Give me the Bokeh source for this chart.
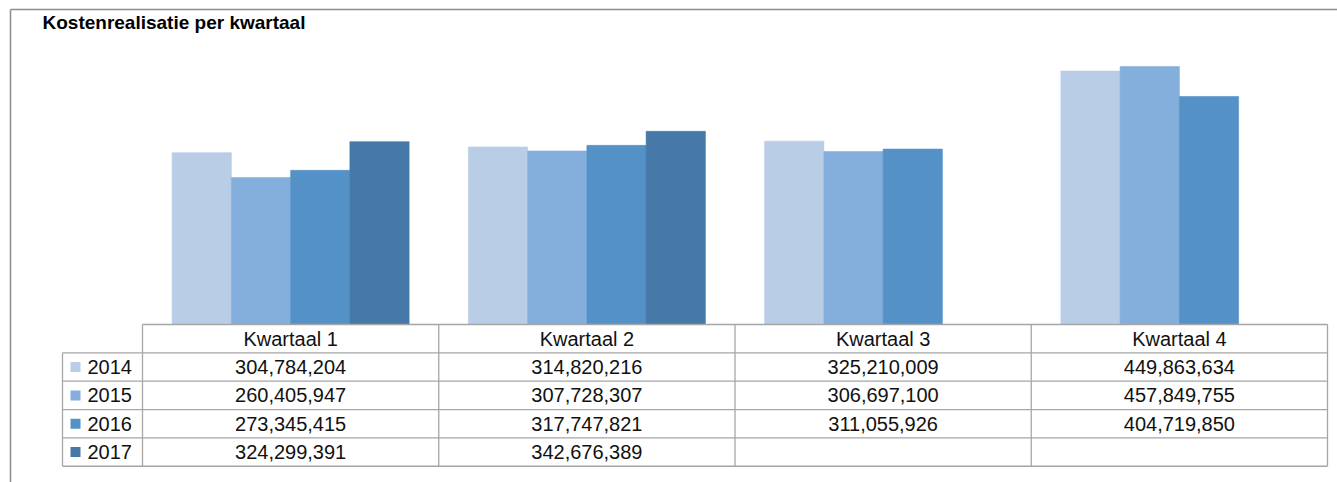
from bokeh.plotting import figure
from bokeh.models import Range1d, ColumnDataSource
from bokeh.core.properties import value
from bokeh.embed import file_html
from bokeh.resources import INLINE

# ---- data ----
title = "Kostenrealisatie per kwartaal"
quarters = ["Kwartaal 1", "Kwartaal 2", "Kwartaal 3", "Kwartaal 4"]
years = ["2014", "2015", "2016", "2017"]
v2014 = [304784204, 314820216, 325210009, 449863634]
v2015 = [260405947, 307728307, 306697100, 457849755]
v2016 = [273345415, 317747821, 311055926, 404719850]
v2017 = [324299391, 342676389, None, None]
series = [v2014, v2015, v2016, v2017]
colors = ["#B9CDE7", "#84AEDB", "#5491C7", "#4679A8"]

# ---- layout helpers (pixel -> data) ----
W, H = 1337, 482
X0, CW = 142.0, 296.25          # table/category column origin and width in px
Y0, PXU = 323.5, 0.5622e-6      # baseline px and px per unit value


def xd(px):
    return (px - X0) / CW


def yd(py):
    return (Y0 - py) / PXU


p = figure(width=W, height=H, output_backend="svg", toolbar_location=None,
           x_range=Range1d(xd(0), xd(W)), y_range=Range1d(yd(H), yd(0)),
           min_border=0, outline_line_color=None)
p.axis.visible = False
p.grid.visible = False
p.background_fill_color = "white"
p.border_fill_color = "white"

FONT = "Liberation Sans"
bar_w = 0.2
for i, (yr, vals, col) in enumerate(zip(years, series, colors)):
    xs, tops = [], []
    for q, v in enumerate(vals):
        if v is not None:
            xs.append(q + 0.5 + (i - 1.5) * bar_w)
            tops.append(v)
    src = ColumnDataSource(dict(x=xs, top=tops))
    p.vbar(x="x", top="top", bottom=0, width=bar_w, source=src,
           fill_color=col, line_color=col, line_alpha=0.6, line_width=1)

# ---- outer chart border (left + top visible) ----
border = "#8C8C8C"
p.segment(x0=[xd(10), xd(10)], y0=[yd(9), yd(9)], x1=[xd(W), xd(10)], y1=[yd(9), yd(H)],
          line_color=border, line_width=1.5)

# ---- title ----
p.text(x=[xd(42)], y=[yd(22)], text=[title], text_font=value(FONT),
       text_font_size="19px", text_font_style="bold", text_align="left",
       text_baseline="middle", text_color="#000000")

# ---- data table ----
grid = "#A6A6A6"
row_h = 28.35
top_py = 324.0
rows_py = [top_py + k * row_h for k in range(6)]
col_px = [X0 + k * CW for k in range(5)]
leg_left = 62.0

hx0, hy0, hx1, hy1 = [], [], [], []
# header top line
hx0.append(xd(col_px[0])); hx1.append(xd(col_px[-1])); hy0.append(yd(rows_py[0])); hy1.append(yd(rows_py[0]))
for r in rows_py[1:]:
    hx0.append(xd(leg_left)); hx1.append(xd(col_px[-1])); hy0.append(yd(r)); hy1.append(yd(r))
# vertical lines
hx0.append(xd(leg_left)); hx1.append(xd(leg_left)); hy0.append(yd(rows_py[1])); hy1.append(yd(rows_py[-1]))
for c in col_px:
    hx0.append(xd(c)); hx1.append(xd(c)); hy0.append(yd(rows_py[0])); hy1.append(yd(rows_py[-1]))
p.segment(x0=hx0, y0=hy0, x1=hx1, y1=hy1, line_color=grid, line_width=1.3)

# header texts
p.text(x=[q + 0.5 for q in range(len(quarters))],
       y=[yd(rows_py[0] + row_h / 2)] * len(quarters), text=quarters,
       text_font=value(FONT), text_font_size="20px", text_align="center",
       text_baseline="middle", text_color="#111111")

# value cells
tx, ty, tt = [], [], []
for i, vals in enumerate(series):
    cy = yd(rows_py[i + 1] + row_h / 2)
    for q, v in enumerate(vals):
        if v is not None:
            tx.append(q + 0.5); ty.append(cy); tt.append(f"{v:,}")
p.text(x=tx, y=ty, text=tt, text_font=value(FONT), text_font_size="20px",
       text_align="center", text_baseline="middle", text_color="#111111")

# legend keys + labels
ly = [yd(rows_py[i + 1] + row_h / 2) for i in range(len(years))]
p.rect(x=[xd(75)] * len(years), y=ly, width=10, height=10,
       width_units="screen", height_units="screen",
       fill_color=colors, line_color=None)
p.text(x=[xd(87)] * len(years), y=ly, text=years, text_font=value(FONT),
       text_font_size="20px", text_align="left", text_baseline="middle",
       text_color="#111111")

open("out.html", "w").write(file_html(p, INLINE))
